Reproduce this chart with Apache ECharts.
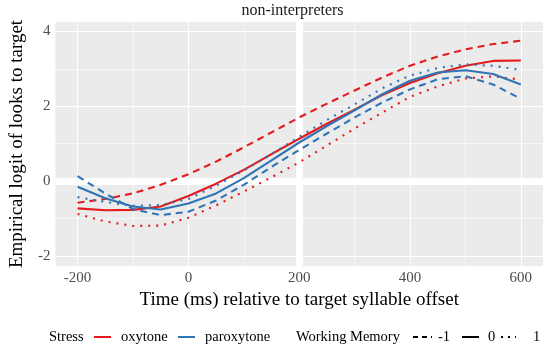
<!DOCTYPE html>
<html>
<head>
<meta charset="utf-8">
<script src="https://cdn.jsdelivr.net/npm/echarts@6/dist/echarts.min.js"></script>
<style>
html,body{margin:0;padding:0;background:#fff}
#chart{width:546px;height:347px}
</style>
</head>
<body>
<div id="chart"></div>
<script>
// time points (ms)
var times = [-200,-150,-100,-50,0,50,100,150,200,250,300,350,400,450,500,550,600];
// oxytone (red), working memory -1 / 0 / 1
var oxyMinus = [-0.58,-0.48,-0.33,-0.1,0.18,0.52,0.9,1.3,1.7,2.07,2.42,2.77,3.08,3.33,3.52,3.66,3.75];
var oxyZero  = [-0.73,-0.78,-0.77,-0.68,-0.4,-0.07,0.3,0.72,1.13,1.53,1.91,2.3,2.62,2.88,3.08,3.21,3.22];
var oxyPlus  = [-0.88,-1.08,-1.2,-1.19,-0.98,-0.65,-0.28,0.1,0.5,0.95,1.4,1.83,2.25,2.53,2.74,2.8,2.71];
// paroxytone (blue)
var parMinus = [0.13,-0.33,-0.75,-0.91,-0.82,-0.52,-0.1,0.38,0.83,1.27,1.7,2.1,2.45,2.72,2.8,2.58,2.2];
var parZero  = [-0.15,-0.46,-0.68,-0.76,-0.6,-0.33,0.08,0.55,1.03,1.47,1.89,2.32,2.68,2.9,2.96,2.86,2.58];
var parPlus  = [-0.43,-0.56,-0.66,-0.64,-0.48,-0.12,0.28,0.72,1.18,1.63,2.05,2.48,2.82,3.02,3.12,3.08,2.97];

var xTicks = [-200,0,200,400,600];
var xMinor = [-100,100,300,500];
var yTicks = [-2,0,2,4];
var yMinor = [-1,1,3];

var RED = '#E41A1C', BLUE = '#2F74B5';
var FONT = '"Liberation Serif", "DejaVu Serif", serif';
var DASH = [7,5], DOT = [2,6];

function pairs(vals){
    return times.map(function(t,i){ return [t, vals[i]]; });
}

function curve(name, vals, color, dash){
    return {
        name: name,
        type: 'line',
        data: pairs(vals),
        showSymbol: false,
        smooth: false,
        z: 5,
        lineStyle: {color: color, width: 2.1, type: dash || 'solid', cap: 'butt'}
    };
}

// panel grid lines (white) drawn as mark lines
var gridLines = [];
xTicks.forEach(function(v){ gridLines.push({xAxis: v, lineStyle:{color:'#fff', width:1.1, type:'solid'}}); });
xMinor.forEach(function(v){ gridLines.push({xAxis: v, lineStyle:{color:'#fff', width:0.55, type:'solid'}}); });
yTicks.forEach(function(v){ gridLines.push({yAxis: v, lineStyle:{color:'#fff', width:1.1, type:'solid'}}); });
yMinor.forEach(function(v){ gridLines.push({yAxis: v, lineStyle:{color:'#fff', width:0.55, type:'solid'}}); });
// thick reference lines
gridLines.push({xAxis: 200, lineStyle:{color:'#fff', width:7, type:'solid'}});
gridLines.push({yAxis: 0, lineStyle:{color:'#fff', width:7, type:'solid'}});

var chart = echarts.init(document.getElementById('chart'));

var legendY = 337;
function txt(x, s){
    return {type:'text', x:x, y:legendY, style:{text:s, font:'14.5px ' + FONT, fill:'#000', textVerticalAlign:'middle'}};
}
function key(x1, x2, color, dash){
    return {type:'line', shape:{x1:x1, y1:legendY, x2:x2, y2:legendY},
        style:{stroke:color, lineWidth:2, lineDash: dash || null}};
}

var option = {
    animation: false,
    grid: {left: 42, right: 3, top: 22, bottom: 81, show: true, backgroundColor: '#EBEBEB', borderWidth: 0},
    xAxis: {
        type: 'value', min: -240, max: 640,
        splitLine: {show: false},
        axisLine: {show: false},
        axisTick: {show: true, customValues: xTicks, length: 4, lineStyle: {color: '#333', width: 1}},
        axisLabel: {customValues: xTicks, color: '#4D4D4D', fontSize: 15, fontFamily: FONT, margin: 5},
        name: 'Time (ms) relative to target syllable offset',
        nameLocation: 'middle', nameGap: 24,
        nameTextStyle: {fontSize: 19, color: '#000', fontFamily: FONT}
    },
    yAxis: {
        type: 'value', min: -2.27, max: 4.25,
        splitLine: {show: false},
        axisLine: {show: false},
        axisTick: {show: true, customValues: yTicks, length: 4, lineStyle: {color: '#333', width: 1}},
        axisLabel: {customValues: yTicks, color: '#4D4D4D', fontSize: 15, fontFamily: FONT, margin: 5},
        name: 'Empirical logit of looks to target',
        nameLocation: 'middle', nameGap: 25, nameRotate: 90,
        nameTextStyle: {fontSize: 19, color: '#000', fontFamily: FONT}
    },
    graphic: [
        {type:'text', x:292.5, y:11, style:{text:'non-interpreters', font:'16px ' + FONT, fill:'#1A1A1A', textAlign:'center', textVerticalAlign:'middle'}},
        txt(49, 'Stress'),
        key(94, 111, RED),
        txt(121, 'oxytone'),
        key(178, 195, BLUE),
        txt(205, 'paroxytone'),
        txt(296, 'Working Memory'),
        key(413, 432, '#000', [5,4]),
        txt(438, '-1'),
        key(462, 479, '#000'),
        txt(488, '0'),
        key(501, 516, '#000', [2,5]),
        txt(533, '1')
    ],
    series: [
        {type: 'line', data: [], z: 1, silent: true,
         markLine: {silent: true, symbol: 'none', label: {show: false}, animation: false, data: gridLines}},
        curve('oxytone -1', oxyMinus, RED, DASH),
        curve('oxytone 0', oxyZero, RED),
        curve('oxytone 1', oxyPlus, RED, DOT),
        curve('paroxytone -1', parMinus, BLUE, DASH),
        curve('paroxytone 0', parZero, BLUE),
        curve('paroxytone 1', parPlus, BLUE, DOT)
    ]
};

chart.setOption(option);
</script>
</body>
</html>
